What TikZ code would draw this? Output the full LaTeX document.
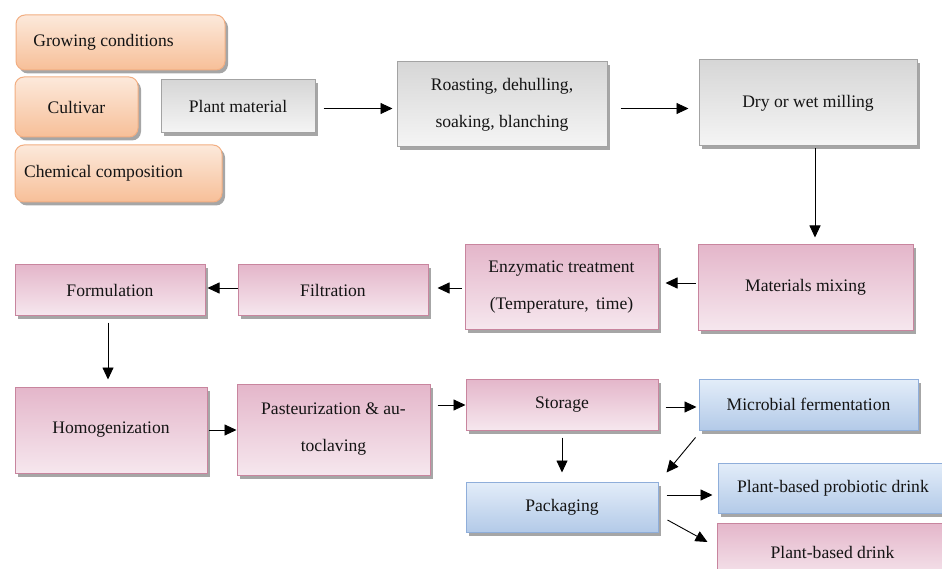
\documentclass[tikz,border=0pt]{standalone}
\usepackage{fontspec}
\setmainfont{Liberation Serif}
\usetikzlibrary{shadows,arrows.meta}
\definecolor{txt}{HTML}{141414}
\definecolor{orA}{HTML}{FCE9DB}
\definecolor{orB}{HTML}{F7BF98}
\definecolor{orD}{HTML}{F2AE82}
\definecolor{grA}{HTML}{D6D6D6}
\definecolor{grB}{HTML}{F5F5F5}
\definecolor{grD}{HTML}{A3A3A3}
\definecolor{pkA}{HTML}{E4B6CA}
\definecolor{pkB}{HTML}{F6E7EE}
\definecolor{pkD}{HTML}{C8859E}
\definecolor{blA}{HTML}{E3EDF9}
\definecolor{blB}{HTML}{B3CAE8}
\definecolor{blD}{HTML}{8FAEDA}
\tikzset{
  basebox/.style={line width=1pt, inner sep=2pt, align=center, text=txt,
    font=\fontsize{17.6}{37}\selectfont,
    drop shadow={shadow xshift=3pt, shadow yshift=-3.5pt, opacity=0.35, fill=black}},
  orbox/.style={basebox, draw=orD, top color=orA, bottom color=orB, rounded corners=9pt},
  grbox/.style={basebox, draw=grD, top color=grA, bottom color=grB},
  pkbox/.style={basebox, draw=pkD, top color=pkA, bottom color=pkB},
  blbox/.style={basebox, draw=blD, top color=blA, bottom color=blB},
  arr/.style={line width=0.9pt, draw=black, -{Triangle[length=12pt,width=11pt]}}
}
\begin{document}
\begin{tikzpicture}[x=1pt,y=-1pt]
\useasboundingbox (0,0) rectangle (942,569);
\clip (0,0) rectangle (942,569);
\fill[white] (0,0) rectangle (942,569);
% orange boxes
\node[orbox, minimum width=209pt, minimum height=55pt] (grow) at (120.5,42.5) {\hspace*{-34pt}Growing conditions};
\node[orbox, minimum width=123pt, minimum height=60pt] (cult) at (76.5,107) {Cultivar};
\node[orbox, minimum width=207pt, minimum height=57pt] (chem) at (118.5,173.5) {\hspace*{-30pt}Chemical composition};
% gray boxes
\node[grbox, minimum width=154pt, minimum height=53pt] (plant) at (238,106.5) {Plant material};
\node[grbox, minimum width=210pt, minimum height=85pt] (roast) at (502,104.5) {Roasting, dehulling,\\soaking, blanching};
\node[grbox, minimum width=218pt, minimum height=86pt] (dry) at (808,103) {Dry or wet milling};
% pink boxes
\node[pkbox, minimum width=215pt, minimum height=85pt] (mix) at (805.5,287.5) {Materials mixing};
\node[pkbox, minimum width=193pt, minimum height=84pt] (enz) at (561.5,287) {Enzymatic treatment\\(Temperature, \,time)};
\node[pkbox, minimum width=190pt, minimum height=50pt] (filt) at (333,290) {Filtration};
\node[pkbox, minimum width=190pt, minimum height=50pt] (form) at (110,290) {Formulation};
\node[pkbox, minimum width=192pt, minimum height=86pt] (homog) at (111,430) {Homogenization};
\node[pkbox, minimum width=193pt, minimum height=91pt] (past) at (333.5,429.5) {Pasteurization \& au-\\toclaving};
\node[pkbox, minimum width=192pt, minimum height=51pt] (stor) at (562,404.5) {Storage};
% blue boxes
\node[blbox, minimum width=219pt, minimum height=51pt] (micro) at (808.5,404.5) {Microbial fermentation};
\node[blbox, minimum width=192pt, minimum height=50pt] (pack) at (562,507) {Packaging};
\node[blbox, minimum width=230pt, minimum height=50pt] (probio) at (833,488) {Plant-based probiotic drink};
\node[pkbox, minimum width=231pt, minimum height=58pt] (drink) at (832.5,552) {Plant-based drink};
% connectors
\draw[arr, shorten <=8pt, shorten >=4pt] ([yshift=-2pt]plant.east) -- ([yshift=-2pt]plant.east -| roast.west);
\draw[arr, shorten <=13pt, shorten >=10pt] ([yshift=-4pt]roast.east) -- ([yshift=-4pt]roast.east -| dry.west);
\draw[arr, shorten <=2pt, shorten >=7pt] ([xshift=7pt]dry.south) -- ([xshift=7pt]dry.south |- mix.north);
\draw[arr, shorten <=2pt, shorten >=7pt] ([yshift=4.5pt]mix.west) -- ([yshift=4.5pt]mix.west -| enz.east);
\draw[arr, shorten <=3pt, shorten >=9pt] ([yshift=-1pt]enz.west) -- ([yshift=-1pt]enz.west -| filt.east);
\draw[arr, shorten <=0pt, shorten >=2pt] ([yshift=2pt]filt.west) -- ([yshift=2pt]filt.west -| form.east);
\draw[arr, shorten <=7pt, shorten >=7pt] ([xshift=-2pt]form.south) -- ([xshift=-2pt]form.south |- homog.north);
\draw[arr, shorten <=1pt, shorten >=0pt] (homog.east) -- (homog.east -| past.west);
\draw[arr, shorten <=7pt, shorten >=0pt] ([yshift=-0.5pt]stor.west -| past.east) -- ([yshift=-0.5pt]stor.west);
\draw[arr, shorten <=7pt, shorten >=2pt] ([yshift=-2.5pt]stor.east) -- ([yshift=-2.5pt]stor.east -| micro.west);
\draw[arr, shorten <=7pt, shorten >=9pt] (stor.south) -- (pack.north);
\draw[arr] ([xshift=-3pt,yshift=-7pt]micro.south west) -- ([xshift=8pt,yshift=9pt]pack.north east);
\draw[arr, shorten <=8pt, shorten >=5pt] ([yshift=12pt]pack.east) -- ([yshift=12pt]pack.east -| probio.west);
\draw[arr] ([xshift=9pt,yshift=-13pt]pack.east) -- ([xshift=-9pt,yshift=10pt]drink.west);
\end{tikzpicture}
\end{document}
